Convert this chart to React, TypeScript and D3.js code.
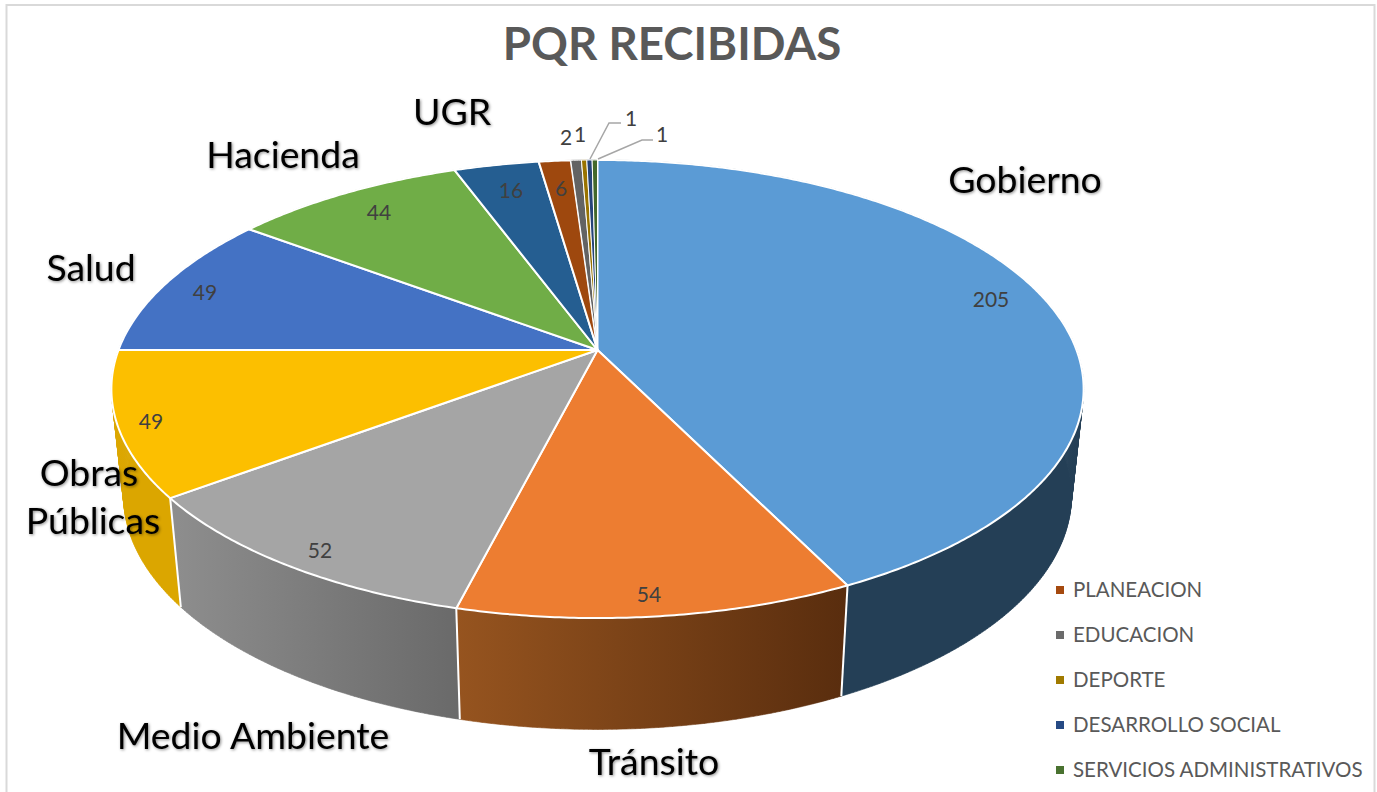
import React from "react";
import * as d3 from "d3";

const categories = ["Gobierno","Tránsito","Medio Ambiente","Obras Públicas","Salud","Hacienda","UGR","PLANEACION","EDUCACION","DEPORTE","DESARROLLO SOCIAL","SERVICIOS ADMINISTRATIVOS"];
const values = [205,54,52,49,49,44,16,6,2,1,1,1];
const topColors = ["#5b9bd5","#ed7d31","#a5a5a5","#fcbf00","#4472c4","#70ad47","#255e91","#9e480e","#636363","#997300","#264478","#43682b"];
const wallFrom = ["#243f56","#96541f","#8e8e8e","#dba600","#2f5597","#5a8a38","#1d4a73","#7d380b","#4f4f4f","#7a5c00","#1e3660","#355322"];
const wallTo = ["#243f56","#592d0e","#6a6a6a","#dba600","#2f5597","#5a8a38","#1d4a73","#7d380b","#4f4f4f","#7a5c00","#1e3660","#355322"];
const legendItems = ["PLANEACION","EDUCACION","DEPORTE","DESARROLLO SOCIAL","SERVICIOS ADMINISTRATIVOS"];
const legendColors = ["#a5490f","#6b6b6b","#a07a00","#264a84","#4a7230"];
const title = "PQR RECIBIDAS";

// layout: anchor positions of the labels
const valuePos: [number, number][] = [[991,300],[649,595],[320,551],[151,422],[205,293],[379,213],[511,191],[561,189],[566,138],[580,135],[631,119],[662,135]];
const namePos: [string, number, number][] = [
  ["Gobierno",1025,180],["Tránsito",654,762],["Medio Ambiente",253,736],
  ["Obras",89,473],["Públicas",93,521],["Salud",91,268],["Hacienda",283,155],["UGR",452,112],
];
const leaders: [number, number][][] = [[[590,159],[609,123],[621,123]],[[598,159],[642,140],[653,140]]];

const CX = 597.5, CY = 350, R = 479, K = 222.4, C = -0.1703;
const DEPTH_X = 0.975, DEPTH_Y = 1.02, DEPTH_DY = 106;
const FONT = "Lato, Carlito, sans-serif";

// perspective projection of a point of the pie's unit circle
function top(a: number): [number, number] {
  const v = -Math.cos(a), d = 1 + C * v;
  return [CX + (R * Math.sin(a)) / d, CY + (K * v) / d];
}
function bottom(a: number): [number, number] {
  const [x, y] = top(a);
  return [CX + (x - CX) * DEPTH_X, CY + (y - CY) * DEPTH_Y + DEPTH_DY];
}
function samples(a0: number, a1: number) {
  const n = Math.max(2, Math.ceil((a1 - a0) * 120));
  return d3.range(n + 1).map((i) => a0 + ((a1 - a0) * i) / n);
}
const line = d3.line();

const arcs = d3.pie<number>().sort(null).value((d) => d)(values);
// back slices are painted first so that the front walls overlap them
const wallOrder = [...d3.range(values.length - 1, 2, -1), 0, 1, 2];

function wallPath(a0: number, a1: number) {
  const s = samples(a0, a1);
  return d3.pairs(s).map(([p, q]) => line([top(p), top(q), bottom(q), bottom(p)]) + "Z").join("");
}

export default function App() {
  const legendY = d3.scalePoint<string>().domain(legendItems).range([590, 770]);
  return (
    <svg width={1377} height={792} style={{ position: "absolute", left: 0, top: 0, background: "#fff" }}>
      <defs>
        {categories.map((c, i) => (
          <linearGradient key={c} id={`w${i}`} gradientUnits="userSpaceOnUse"
            x1={Math.min(top(arcs[i].startAngle)[0], top(arcs[i].endAngle)[0])} x2={Math.max(top(arcs[i].startAngle)[0], top(arcs[i].endAngle)[0])} y1={0} y2={0}>
            <stop offset="0" stopColor={wallFrom[i]} />
            <stop offset="1" stopColor={wallTo[i]} />
          </linearGradient>
        ))}
      </defs>
      <rect x={6.5} y={5} width={1368} height={800} fill="#fff" stroke="#d9d9d9" strokeWidth={2} />
      <text x={672} y={60} textAnchor="middle" fontFamily={FONT} fontWeight={700} fontSize={45.7} fill="#595959">{title}</text>

      {/* side walls */}
      {wallOrder.map((i) => {
        const a = arcs[i];
        return <path key={i} d={wallPath(a.startAngle, a.endAngle)} fill={`url(#w${i})`} stroke={`url(#w${i})`} strokeWidth={0.6} />;
      })}
      {arcs.slice(0, 3).map((a, i) => (
        <path key={i} d={line([top(a.endAngle), bottom(a.endAngle)]) as string} stroke="#fff" strokeWidth={2} fill="none" />
      ))}
      {/* top face */}
      {arcs.map((a, i) => {
        const pts = [[CX, CY] as [number, number], ...samples(a.startAngle, a.endAngle).map(top)];
        return <path key={i} d={line(pts) + "Z"} fill={topColors[i]} stroke="#fff" strokeWidth={i > 7 ? 1 : 2} strokeLinejoin="round" />;
      })}

      {leaders.map((l, i) => (
        <path key={i} d={line(l) as string} fill="none" stroke="#a6a6a6" strokeWidth={1.5} />
      ))}
      {values.map((v, i) => (
        <text key={i} x={valuePos[i][0]} y={valuePos[i][1]} dy="0.35em" textAnchor="middle" fontFamily={FONT} fontSize={21} fill="#404040">{v}</text>
      ))}
      {namePos.map(([t, x, y]) => (
        <text key={t} x={x} y={y} dy="0.35em" textAnchor="middle" fontFamily={FONT} fontSize={37.4} fill="#000"
          style={{ filter: "drop-shadow(1px 1px 1.5px rgba(0,0,0,0.45))" }}>{t}</text>
      ))}
      {legendItems.map((t, i) => {
        const y = legendY(t) as number;
        return (
          <g key={t}>
            <rect x={1056} y={y - 4} width={8} height={8} fill={legendColors[i]} />
            <text x={1073} y={y} dy="0.35em" fontFamily={FONT} fontSize={20.5} fill="#595959">{t}</text>
          </g>
        );
      })}
    </svg>
  );
}
